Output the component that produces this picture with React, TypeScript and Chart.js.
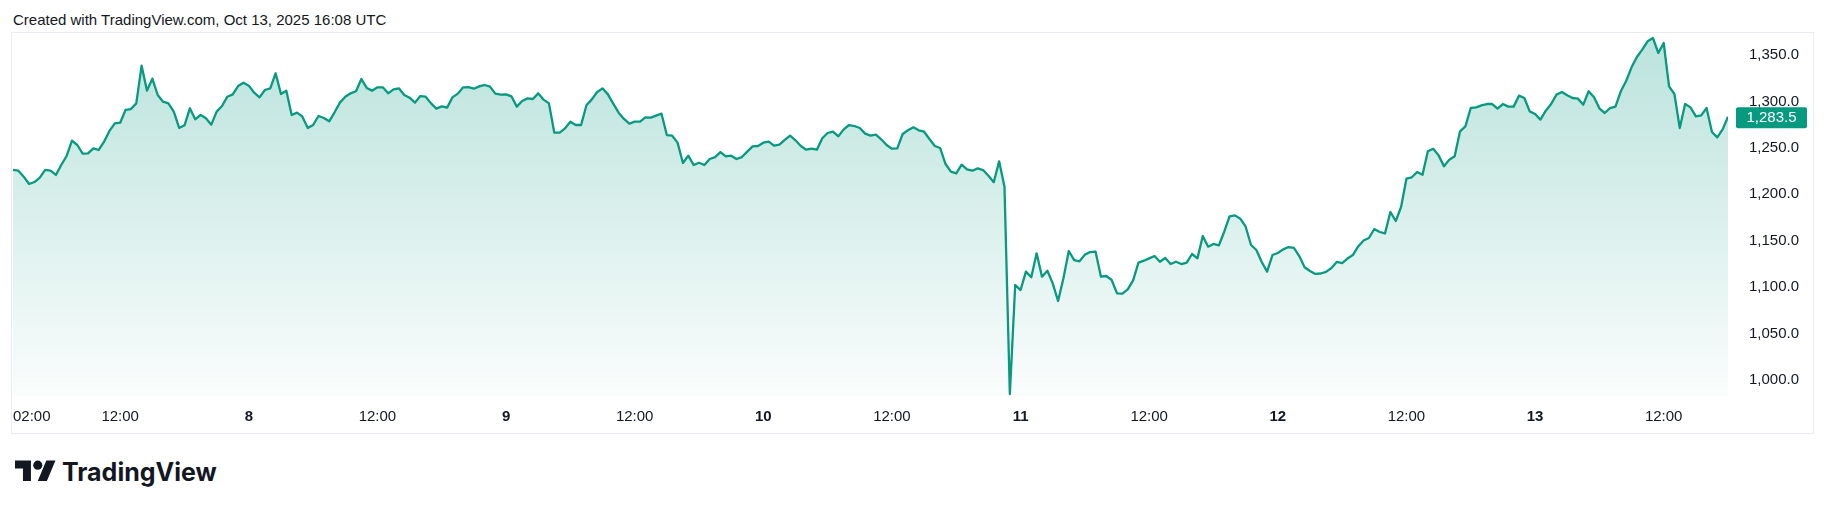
import React, { useEffect, useRef } from 'react';
import { Chart, registerables } from 'chart.js';

Chart.register(...registerables);

// 30-minute closes, Oct 7 02:00 → Oct 13 18:00 (chart time)
const prices: number[] = [
  1226.2, 1225.4, 1219.0, 1211.1, 1213.2, 1217.9, 1226.2, 1225.4, 1220.8, 1231.5,
  1241.2, 1257.7, 1253.1, 1243.7, 1244.1, 1249.5, 1247.7, 1256.7, 1268.2, 1276.4,
  1277.1, 1290.8, 1291.8, 1297.9, 1338.5, 1311.6, 1324.5, 1306.9, 1299.7, 1297.9,
  1289.0, 1271.4, 1274.3, 1292.6, 1280.7, 1285.4, 1281.8, 1275.0, 1289.0, 1295.1,
  1305.1, 1307.6, 1316.6, 1320.2, 1317.0, 1309.4, 1304.4, 1312.3, 1314.1, 1330.3,
  1308.0, 1311.6, 1285.4, 1287.9, 1283.6, 1271.4, 1274.6, 1284.3, 1282.1, 1278.6,
  1288.3, 1298.7, 1305.1, 1308.7, 1310.9, 1324.1, 1314.5, 1311.6, 1315.2, 1315.2,
  1308.7, 1313.0, 1314.1, 1306.9, 1304.0, 1298.7, 1305.8, 1305.1, 1297.9, 1292.2,
  1294.7, 1293.3, 1304.4, 1308.4, 1315.2, 1315.5, 1313.7, 1316.2, 1317.7, 1315.9,
  1308.4, 1307.3, 1307.6, 1305.5, 1294.4, 1300.5, 1303.3, 1302.6, 1308.7, 1301.9,
  1297.9, 1266.4, 1266.4, 1271.0, 1278.2, 1274.6, 1274.6, 1295.8, 1302.2, 1310.1,
  1314.1, 1307.6, 1297.6, 1287.9, 1281.1, 1276.0, 1278.2, 1278.2, 1282.9, 1282.5,
  1284.7, 1286.8, 1263.8, 1263.1, 1255.6, 1233.7, 1241.6, 1231.5, 1234.0, 1231.5,
  1238.0, 1240.1, 1245.5, 1240.9, 1241.6, 1238.0, 1240.1, 1245.9, 1251.6, 1252.0,
  1255.6, 1256.7, 1252.4, 1253.4, 1258.5, 1263.1, 1258.1, 1252.0, 1248.0, 1249.1,
  1248.0, 1260.3, 1266.0, 1267.4, 1262.4, 1269.9, 1274.6, 1273.5, 1271.4, 1265.3,
  1263.1, 1264.2, 1259.2, 1253.1, 1249.1, 1249.5, 1264.9, 1268.9, 1272.1, 1268.9,
  1267.4, 1259.5, 1252.0, 1249.8, 1232.6, 1224.4, 1222.6, 1231.9, 1226.9, 1225.4,
  1227.9, 1226.1, 1220.0, 1213.0, 1235.5, 1208.2, 984.9, 1102.3, 1096.9, 1116.7,
  1110.6, 1136.4, 1111.3, 1117.7, 1104.1, 1085.1, 1109.5, 1138.9, 1129.2, 1127.8,
  1135.0, 1137.8, 1138.2, 1111.3, 1112.0, 1107.7, 1093.3, 1093.0, 1097.6, 1107.3,
  1126.4, 1128.5, 1131.0, 1133.5, 1127.4, 1131.4, 1124.9, 1127.4, 1124.9, 1126.4,
  1135.7, 1131.0, 1155.1, 1143.6, 1146.5, 1145.0, 1159.7, 1176.3, 1177.3, 1173.7,
  1165.1, 1145.4, 1140.0, 1127.1, 1116.7, 1134.6, 1136.8, 1140.7, 1143.2, 1142.2,
  1133.5, 1121.5, 1117.4, 1114.2, 1114.7, 1116.5, 1120.6, 1127.1, 1126.0, 1130.8,
  1134.6, 1143.8, 1150.2, 1152.9, 1162.6, 1159.4, 1157.8, 1180.9, 1171.2, 1186.3,
  1216.8, 1218.3, 1224.0, 1221.1, 1246.3, 1249.1, 1241.9, 1230.1, 1237.3, 1240.9,
  1267.8, 1273.2, 1292.9, 1293.6, 1295.8, 1297.2, 1297.2, 1292.2, 1297.2, 1294.4,
  1294.4, 1306.2, 1303.7, 1289.3, 1286.5, 1280.4, 1290.0, 1297.2, 1307.3, 1310.1,
  1306.6, 1303.7, 1303.0, 1296.5, 1310.9, 1304.4, 1292.6, 1287.5, 1292.9, 1294.4,
  1310.9, 1322.0, 1336.7, 1347.8, 1355.7, 1364.7, 1368.3, 1352.1, 1362.9, 1316.3,
  1308.0, 1271.4, 1297.2, 1293.6, 1283.9, 1285.0, 1292.9, 1267.1, 1261.3, 1269.9,
  1283.5,
];

const priceTicks = [1000, 1050, 1100, 1150, 1200, 1250, 1300, 1350];
const priceMin = 982.8;
const priceMax = 1372.6;

// bar indexes of the time-axis labels (index 0 = Oct 7 02:00, one bar = 30 min)
const timeTickIndex = [0, 20, 44, 68, 92, 116, 140, 164, 188, 212, 236, 260, 284, 308, 320];
const timeTickLabels = ['02:00', '12:00', '8', '12:00', '9', '12:00', '10', '12:00', '11', '12:00', '12', '12:00', '13', '12:00', ''];
const dayLabels = ['8', '9', '10', '11', '12', '13'];

const headerText = 'Created with TradingView.com, Oct 13, 2025 16:08 UTC';

const LINE = '#089981';
const TEXT = '#131722';
const FONT = '"Liberation Sans", Arial, sans-serif';

const fmtPrice = (v: number) =>
  Number(v).toLocaleString('en-US', { minimumFractionDigits: 1, maximumFractionDigits: 1 });

export default function App() {
  const ref = useRef<HTMLCanvasElement>(null);

  useEffect(() => {
    if (!ref.current) return;

    const lastPrice = {
      id: 'lastPrice',
      afterDraw(chart: any) {
        const { ctx, chartArea } = chart;
        const y = chart.scales.y;
        const v = prices[prices.length - 1];
        const py = y.getPixelForValue(v) + 1;
        const x0 = chartArea.right + 8;
        const w = 71;
        const h = 21;
        ctx.save();
        ctx.fillStyle = LINE;
        ctx.beginPath();
        ctx.roundRect(x0, py - h / 2, w, h, 2);
        ctx.fill();
        ctx.fillStyle = '#ffffff';
        ctx.font = `15px ${FONT}`;
        ctx.textAlign = 'center';
        ctx.textBaseline = 'middle';
        ctx.fillText(fmtPrice(v), x0 + w / 2, py + 0.5);
        ctx.restore();
      },
    };

    const chart = new Chart(ref.current, {
      type: 'line',
      data: {
        datasets: [
          {
            data: prices.map((p, i) => ({ x: i, y: p })),
            borderColor: LINE,
            borderWidth: 2.3,
            borderJoinStyle: 'round',
            pointRadius: 0,
            pointHoverRadius: 0,
            tension: 0,
            fill: 'start',
            backgroundColor: (c: any) => {
              const { chart: ch } = c;
              const area = ch.chartArea;
              if (!area) return 'rgba(8,153,129,0.15)';
              const g = ch.ctx.createLinearGradient(0, area.top, 0, area.bottom);
              g.addColorStop(0, 'rgba(8,153,129,0.28)');
              g.addColorStop(1, 'rgba(8,153,129,0.02)');
              return g;
            },
          },
        ],
      },
      options: {
        animation: false,
        responsive: false,
        events: [],
        layout: { padding: { left: 1, right: 0, top: 1, bottom: 0 } },
        plugins: { legend: { display: false }, tooltip: { enabled: false } },
        scales: {
          x: {
            type: 'linear',
            min: 0,
            max: prices.length - 1,
            bounds: 'data',
            grid: { display: false, drawTicks: false },
            border: { display: false },
            afterFit: (s: any) => {
              s.height = 37;
              s.paddingLeft = 0;
              s.paddingRight = 0;
            },
            afterBuildTicks: (s: any) => {
              s.ticks = timeTickIndex.map((v) => ({ value: v }));
            },
            ticks: {
              autoSkip: false,
              maxRotation: 0,
              minRotation: 0,
              align: 'inner',
              padding: 12,
              color: TEXT,
              callback: (_v: any, i: number) => timeTickLabels[i],
              font: (c: any) => {
                const lab = timeTickLabels[c.index];
                return {
                  family: FONT,
                  size: 15,
                  weight: dayLabels.includes(lab) ? 'bold' : 'normal',
                };
              },
            },
          },
          y: {
            type: 'linear',
            position: 'right',
            min: priceMin,
            max: priceMax,
            bounds: 'data',
            grid: { display: false, drawTicks: false },
            border: { display: false },
            afterFit: (s: any) => {
              s.width = 85;
              s.paddingTop = 0;
              s.paddingBottom = 0;
            },
            afterBuildTicks: (s: any) => {
              s.ticks = priceTicks.map((v) => ({ value: v }));
            },
            ticks: {
              padding: 21,
              color: TEXT,
              font: { family: FONT, size: 15 },
              callback: (v: any) => fmtPrice(v),
            },
          },
        },
      },
      plugins: [lastPrice],
    } as any);

    return () => chart.destroy();
  }, []);

  return (
    <div style={{ position: 'absolute', left: 0, top: 0, width: 1826, height: 509, background: '#ffffff' }}>
      <div
        style={{
          position: 'absolute',
          left: 13,
          top: 11,
          font: `15px ${FONT}`,
          lineHeight: '18px',
          color: TEXT,
          whiteSpace: 'nowrap',
        }}
      >
        {headerText}
      </div>
      <div
        style={{
          position: 'absolute',
          left: 11,
          top: 32,
          width: 1803,
          height: 402,
          boxSizing: 'border-box',
          border: '1px solid #e9ecf2',
        }}
      />
      <canvas
        ref={ref}
        width={1801}
        height={400}
        style={{ position: 'absolute', left: 12, top: 33, width: 1801, height: 400 }}
      />
      <div style={{ position: 'absolute', left: 15, top: 460, height: 24, display: 'flex', alignItems: 'center' }}>
        <svg width={41} height={32} viewBox="0 0 36 28" style={{ display: 'block' }}>
          <path d="M14 22H7V11H0V4h14v18zM28 22h-8l7.5-18h8L28 22z" fill="#131722" />
          <circle cx={20} cy={8} r={4} fill="#131722" />
        </svg>
        <span
          style={{
            marginLeft: 6,
            font: `bold 25px Inter, "DejaVu Sans", sans-serif`,
            color: '#131722',
          }}
        >
          TradingView
        </span>
      </div>
    </div>
  );
}
